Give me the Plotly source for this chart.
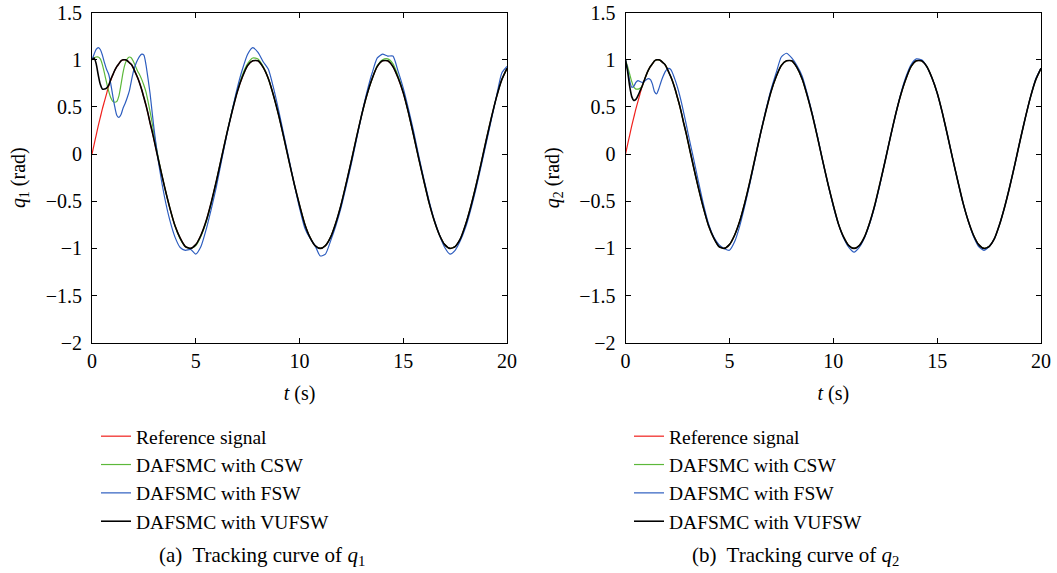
import plotly.graph_objects as go

# time grid: fine steps over the start-up transient, coarser afterwards
t = [0.0, 0.1, 0.2, 0.3, 0.4, 0.5, 0.6, 0.7, 0.8, 0.9, 1.0, 1.1, 1.2, 1.3, 1.4, 1.5,
     1.6, 1.7, 1.8, 1.9, 2.0, 2.1, 2.2, 2.3, 2.4, 2.5, 2.6, 2.7, 2.8, 2.9, 3.0,
     3.25, 3.5, 3.75, 4.0, 4.25, 4.5, 4.75, 5.0, 5.25, 5.5, 5.75, 6.0, 6.25, 6.5, 6.75,
     7.0, 7.25, 7.5, 7.75, 8.0, 8.25, 8.5, 8.75, 9.0, 9.25, 9.5, 9.75, 10.0, 10.25,
     10.5, 10.75, 11.0, 11.25, 11.5, 11.75, 12.0, 12.25, 12.5, 12.75, 13.0, 13.25,
     13.5, 13.75, 14.0, 14.25, 14.5, 14.75, 15.0, 15.25, 15.5, 15.75, 16.0, 16.25,
     16.5, 16.75, 17.0, 17.25, 17.5, 17.75, 18.0, 18.25, 18.5, 18.75, 19.0, 19.25,
     19.5, 19.75, 20.0]

reference = [0.00, 0.10, 0.20, 0.30, 0.39, 0.48, 0.56, 0.64, 0.72, 0.78, 0.84, 0.89, 0.93, 0.96, 0.99, 1.00,
             1.00, 0.99, 0.97, 0.95, 0.91, 0.86, 0.81, 0.75, 0.68, 0.60, 0.52, 0.43, 0.33, 0.24, 0.14,
             -0.11, -0.35, -0.57, -0.76, -0.89, -0.98, -1.00, -0.96, -0.86, -0.71, -0.51, -0.28, -0.03, 0.22, 0.45,
             0.66, 0.82, 0.94, 0.99, 0.99, 0.92, 0.80, 0.62, 0.41, 0.17, -0.08, -0.32, -0.54, -0.74,
             -0.88, -0.97, -1.00, -0.97, -0.88, -0.73, -0.54, -0.31, -0.07, 0.18, 0.42, 0.63,
             0.80, 0.93, 0.99, 0.99, 0.93, 0.81, 0.65, 0.44, 0.20, -0.05, -0.29, -0.52,
             -0.71, -0.86, -0.96, -1.00, -0.98, -0.90, -0.75, -0.56, -0.34, -0.10, 0.15, 0.39,
             0.61, 0.79, 0.91]

# q1 responses
csw_q1 = [1.00, 1.02, 1.03, 1.03, 1.01, 0.95, 0.86, 0.76, 0.67, 0.60, 0.56, 0.55, 0.56, 0.62, 0.74, 0.87,
          0.96, 1.01, 1.03, 1.02, 0.98, 0.93, 0.88, 0.84, 0.79, 0.73, 0.66, 0.56, 0.45, 0.33, 0.20,
          -0.10, -0.35, -0.57, -0.76, -0.90, -0.98, -1.00, -0.97, -0.87, -0.72, -0.52, -0.28, -0.03, 0.22, 0.46,
          0.67, 0.84, 0.96, 1.02, 1.01, 0.93, 0.80, 0.62, 0.41, 0.17, -0.08, -0.32, -0.54, -0.74,
          -0.88, -0.97, -1.00, -0.97, -0.88, -0.73, -0.54, -0.31, -0.07, 0.18, 0.42, 0.63,
          0.80, 0.94, 1.00, 1.01, 0.96, 0.83, 0.66, 0.44, 0.20, -0.05, -0.29, -0.52,
          -0.71, -0.86, -0.96, -1.00, -0.98, -0.90, -0.75, -0.56, -0.34, -0.10, 0.15, 0.39,
          0.61, 0.79, 0.91]

fsw_q1 = [1.00, 1.06, 1.11, 1.13, 1.11, 1.05, 0.97, 0.90, 0.85, 0.75, 0.62, 0.50, 0.41, 0.39, 0.42, 0.49,
          0.54, 0.60, 0.67, 0.78, 0.88, 0.95, 1.00, 1.04, 1.06, 1.05, 0.95, 0.80, 0.64, 0.44, 0.25,
          -0.15, -0.46, -0.70, -0.88, -0.99, -1.02, -1.01, -1.06, -0.98, -0.80, -0.58, -0.34, -0.06, 0.21, 0.46,
          0.70, 0.90, 1.06, 1.13, 1.08, 0.98, 0.90, 0.70, 0.46, 0.20, -0.06, -0.32, -0.57, -0.78,
          -0.89, -0.97, -1.08, -1.06, -0.92, -0.76, -0.57, -0.34, -0.10, 0.16, 0.42, 0.66,
          0.86, 1.02, 1.06, 1.04, 1.04, 0.88, 0.70, 0.48, 0.24, -0.02, -0.27, -0.50,
          -0.70, -0.86, -0.99, -1.06, -1.02, -0.92, -0.78, -0.59, -0.37, -0.13, 0.12, 0.37,
          0.62, 0.86, 0.93]

vufsw_q1 = [1.00, 1.02, 0.96, 0.84, 0.74, 0.69, 0.69, 0.70, 0.73, 0.79, 0.84, 0.89, 0.93, 0.96, 0.99, 1.00,
            1.00, 0.99, 0.97, 0.95, 0.91, 0.86, 0.81, 0.75, 0.68, 0.60, 0.52, 0.43, 0.33, 0.24, 0.14,
            -0.11, -0.35, -0.57, -0.76, -0.89, -0.98, -1.00, -0.96, -0.86, -0.71, -0.51, -0.28, -0.03, 0.22, 0.45,
            0.66, 0.82, 0.94, 0.99, 0.99, 0.92, 0.80, 0.62, 0.41, 0.17, -0.08, -0.32, -0.54, -0.74,
            -0.88, -0.97, -1.00, -0.97, -0.88, -0.73, -0.54, -0.31, -0.07, 0.18, 0.42, 0.63,
            0.80, 0.93, 0.99, 0.99, 0.93, 0.81, 0.65, 0.44, 0.20, -0.05, -0.29, -0.52,
            -0.71, -0.86, -0.96, -1.00, -0.98, -0.90, -0.75, -0.56, -0.34, -0.10, 0.15, 0.39,
            0.61, 0.79, 0.91]

# q2 responses
csw_q2 = [1.00, 0.93, 0.85, 0.77, 0.71, 0.69, 0.69, 0.70, 0.72, 0.78, 0.84, 0.89, 0.93, 0.96, 0.99, 1.00,
          1.00, 0.99, 0.97, 0.95, 0.91, 0.86, 0.81, 0.75, 0.68, 0.60, 0.52, 0.43, 0.33, 0.24, 0.14,
          -0.11, -0.35, -0.57, -0.76, -0.89, -0.98, -1.00, -0.96, -0.86, -0.71, -0.51, -0.28, -0.03, 0.22, 0.45,
          0.66, 0.82, 0.94, 0.99, 0.99, 0.92, 0.80, 0.62, 0.41, 0.17, -0.08, -0.32, -0.54, -0.74,
          -0.88, -0.97, -1.00, -0.97, -0.88, -0.73, -0.54, -0.31, -0.07, 0.18, 0.42, 0.63,
          0.80, 0.93, 0.99, 0.99, 0.93, 0.81, 0.65, 0.44, 0.20, -0.05, -0.29, -0.52,
          -0.71, -0.86, -0.96, -1.00, -0.98, -0.90, -0.75, -0.56, -0.34, -0.10, 0.15, 0.39,
          0.61, 0.79, 0.91]

fsw_q2 = [1.00, 0.90, 0.78, 0.71, 0.72, 0.76, 0.78, 0.77, 0.76, 0.77, 0.79, 0.80, 0.79, 0.74, 0.66, 0.64,
          0.69, 0.76, 0.82, 0.87, 0.90, 0.91, 0.89, 0.84, 0.78, 0.71, 0.63, 0.54, 0.44, 0.34, 0.23,
          -0.02, -0.28, -0.53, -0.74, -0.88, -0.96, -1.00, -1.02, -0.93, -0.76, -0.54, -0.30, -0.04, 0.22, 0.46,
          0.68, 0.86, 1.03, 1.07, 1.02, 0.94, 0.83, 0.64, 0.42, 0.18, -0.08, -0.32, -0.55, -0.74,
          -0.89, -0.99, -1.04, -0.99, -0.89, -0.74, -0.55, -0.32, -0.07, 0.18, 0.42, 0.64,
          0.82, 0.95, 1.01, 1.00, 0.93, 0.81, 0.65, 0.44, 0.20, -0.05, -0.29, -0.52,
          -0.71, -0.87, -0.98, -1.02, -0.98, -0.90, -0.75, -0.56, -0.34, -0.10, 0.15, 0.39,
          0.61, 0.80, 0.91]

vufsw_q2 = [1.00, 0.88, 0.72, 0.61, 0.57, 0.58, 0.62, 0.67, 0.72, 0.78, 0.84, 0.89, 0.93, 0.96, 0.99, 1.00,
            1.00, 0.99, 0.97, 0.95, 0.91, 0.86, 0.81, 0.75, 0.68, 0.60, 0.52, 0.43, 0.33, 0.24, 0.14,
            -0.11, -0.35, -0.57, -0.76, -0.89, -0.98, -1.00, -0.96, -0.86, -0.71, -0.51, -0.28, -0.03, 0.22, 0.45,
            0.66, 0.82, 0.94, 0.99, 0.99, 0.92, 0.80, 0.62, 0.41, 0.17, -0.08, -0.32, -0.54, -0.74,
            -0.88, -0.97, -1.00, -0.97, -0.88, -0.73, -0.54, -0.31, -0.07, 0.18, 0.42, 0.63,
            0.80, 0.93, 0.99, 0.99, 0.93, 0.81, 0.65, 0.44, 0.20, -0.05, -0.29, -0.52,
            -0.71, -0.86, -0.96, -1.00, -0.98, -0.90, -0.75, -0.56, -0.34, -0.10, 0.15, 0.39,
            0.61, 0.79, 0.91]

names = ["Reference signal", "DAFSMC with CSW", "DAFSMC with FSW", "DAFSMC with VUFSW"]
colors = ["#f0201c", "#5cb83a", "#2d5dbf", "#000000"]
widths = [1.2, 1.2, 1.2, 1.6]

FONT = "Liberation Serif"

fig = go.Figure()

panels = [
    ("x", "y", "legend", [reference, csw_q1, fsw_q1, vufsw_q1]),
    ("x2", "y2", "legend2", [reference, csw_q2, fsw_q2, vufsw_q2]),
]
for xa, ya, lg, series in panels:
    for i, vals in enumerate(series):
        fig.add_trace(go.Scatter(
            x=t, y=vals, mode="lines", name=names[i],
            line=dict(color=colors[i], width=widths[i], shape="spline", smoothing=0.6),
            xaxis=xa, yaxis=ya, legend=lg, legendgroup=lg + str(i),
        ))

W, H = 1057, 573
def px(x):
    return x / W
def py(y):
    return 1 - y / H

axis_common = dict(
    showline=True, linecolor="black", linewidth=1, mirror="ticks",
    ticks="inside", ticklen=5, tickcolor="black", showgrid=False, zeroline=False,
    tickfont=dict(family=FONT, size=20, color="black"), automargin=False,
)
title_font = dict(family=FONT, size=20, color="black")
legend_font = dict(family=FONT, size=19.5, color="black")

fig.update_layout(
    width=W, height=H,
    margin=dict(l=0, r=0, t=0, b=0),
    paper_bgcolor="white", plot_bgcolor="white",
    font=dict(family=FONT, size=20, color="black"),
    xaxis=dict(domain=[px(92), px(507)], range=[0, 20], dtick=5, anchor="y",
               title=dict(text="<i>t</i> (s)", standoff=15, font=title_font), **axis_common),
    yaxis=dict(domain=[py(342.7), py(12.7)], range=[-2, 1.5], dtick=0.5, anchor="x",
               ticklabelstandoff=5,
               title=dict(text="<i>q</i><sub>1</sub> (rad)", standoff=14, font=title_font),
               **axis_common),
    xaxis2=dict(domain=[px(625.5), px(1041)], range=[0, 20], dtick=5, anchor="y2",
                title=dict(text="<i>t</i> (s)", standoff=15, font=title_font), **axis_common),
    yaxis2=dict(domain=[py(342.7), py(12.7)], range=[-2, 1.5], dtick=0.5, anchor="x2",
                ticklabelstandoff=5,
                title=dict(text="<i>q</i><sub>2</sub> (rad)", standoff=14, font=title_font),
                **axis_common),
    legend=dict(x=px(96), y=py(417), xanchor="left", yanchor="top", bgcolor="rgba(0,0,0,0)",
                font=legend_font, traceorder="grouped", tracegroupgap=0, itemwidth=30),
    legend2=dict(x=px(629), y=py(417), xanchor="left", yanchor="top", bgcolor="rgba(0,0,0,0)",
                 font=legend_font, traceorder="grouped", tracegroupgap=0, itemwidth=30),
    annotations=[
        dict(text="(a)  Tracking curve of <i>q</i><sub>1</sub>", x=px(262), y=py(556), xref="paper", yref="paper",
             xanchor="center", yanchor="middle", showarrow=False, font=dict(family=FONT, size=21)),
        dict(text="(b)  Tracking curve of <i>q</i><sub>2</sub>", x=px(795), y=py(556), xref="paper", yref="paper",
             xanchor="center", yanchor="middle", showarrow=False, font=dict(family=FONT, size=21)),
    ],
)

# drop the browser's default body margin so the figure starts at the window corner
fig.write_html("out.html", config={"displayModeBar": False},
               post_script="document.body.style.margin='0';")
